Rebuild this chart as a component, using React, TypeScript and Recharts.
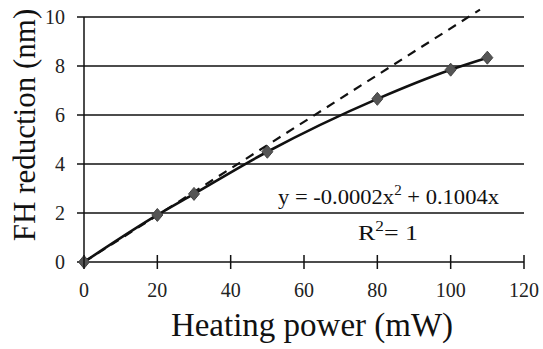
import { LineChart, Line, XAxis, YAxis, ReferenceLine } from "recharts";

// measured points (mW, nm)
const POWER = [0, 20, 30, 50, 80, 100, 110];
const REDUCTION = [0, 1.92, 2.78, 4.5, 6.66, 7.85, 8.34];

// dashed linear extrapolation, endpoints
const LIN_POWER = [0, 108];
const LIN_REDUCTION = [0, 10.3];

const X_TICKS = [0, 20, 40, 60, 80, 100, 120];
const Y_TICKS = [0, 2, 4, 6, 8, 10];

const measured = POWER.map((p, i) => ({ p, r: REDUCTION[i] }));
const linear = LIN_POWER.map((p, i) => ({ p, lin: LIN_REDUCTION[i] }));

const FONT = "Liberation Serif, Times New Roman, Times, serif";

const Diamond = (props: any) => {
  const { cx, cy } = props;
  if (cx == null || cy == null) return null;
  return (
    <polygon
      points={`${cx},${cy - 6.5} ${cx + 5.5},${cy} ${cx},${cy + 6.5} ${cx - 5.5},${cy}`}
      fill="#555"
      stroke="#444"
      strokeWidth={1}
    />
  );
};

const XTick = (props: any) => {
  const { x, y, payload } = props;
  return (
    <g>
      <line x1={x} x2={x} y1={y - 7} y2={y + 7} stroke="#111" strokeWidth={1.5} />
      <text x={x} y={y + 35} textAnchor="middle" fontSize={20} fontFamily={FONT} fill="#222">
        {payload.value}
      </text>
    </g>
  );
};

export default function App() {
  return (
    <div style={{ position: "absolute", left: 0, top: 0, width: 543, height: 349, background: "#fff", fontFamily: FONT }}>
      <LineChart width={543} height={349} margin={{ top: 4.75, right: 19, left: 24, bottom: 37 }}>
        <XAxis
          type="number"
          dataKey="p"
          domain={[0, 120]}
          ticks={X_TICKS}
          interval={0}
          height={50}
          tickSize={0}
          tickMargin={0}
          tickLine={false}
          axisLine={{ stroke: "#111", strokeWidth: 1.5 }}
          tick={<XTick />}
        />
        <YAxis
          type="number"
          domain={[0, 10.5]}
          ticks={Y_TICKS}
          interval={0}
          width={60}
          tickSize={7}
          tickMargin={12}
          axisLine={false}
          tickLine={{ stroke: "#111", strokeWidth: 1.5 }}
          tick={{ fontSize: 20, fontFamily: FONT, fill: "#222" }}
        />
        {Y_TICKS.filter((v) => v > 0).map((v) => (
          <ReferenceLine key={v} y={v} stroke="#111" strokeWidth={1.5} />
        ))}
        <ReferenceLine
          segment={[{ x: 0, y: 0 }, { x: 0, y: 10 }]}
          stroke="#111"
          strokeWidth={1.5}
        />
        <Line
          data={linear}
          dataKey="lin"
          type="linear"
          stroke="#111"
          strokeWidth={2.2}
          strokeDasharray="9 7"
          dot={false}
          isAnimationActive={false}
        />
        <Line
          data={measured}
          dataKey="r"
          type="monotone"
          stroke="#111"
          strokeWidth={2.6}
          dot={<Diamond />}
          isAnimationActive={false}
        />
      </LineChart>
      <svg
        width={543}
        height={349}
        style={{ position: "absolute", left: 0, top: 0, pointerEvents: "none" }}
      >
        <text
          x={312}
          y={336}
          textAnchor="middle"
          fontSize={33}
          fontFamily={FONT}
          fill="#111"
        >
          Heating power (mW)
        </text>
        <text
          transform="translate(35,125) rotate(-90)"
          textAnchor="middle"
          fontSize={31}
          fontFamily={FONT}
          fill="#111"
        >
          FH reduction (nm)
        </text>
        <text
          x={278}
          y={204}
          fontSize={21}
          fontFamily={FONT}
          fill="#111"
          textLength={221}
          lengthAdjust="spacingAndGlyphs"
        >
          y = -0.0002x<tspan dy={-9} fontSize={14}>2</tspan>
          <tspan dy={9}> + 0.1004x</tspan>
        </text>
        <text
          x={358}
          y={240}
          fontSize={21}
          fontFamily={FONT}
          fill="#111"
          textLength={60}
          lengthAdjust="spacingAndGlyphs"
        >
          R<tspan dy={-9} fontSize={14}>2</tspan>
          <tspan dy={9}>= 1</tspan>
        </text>
      </svg>
    </div>
  );
}
